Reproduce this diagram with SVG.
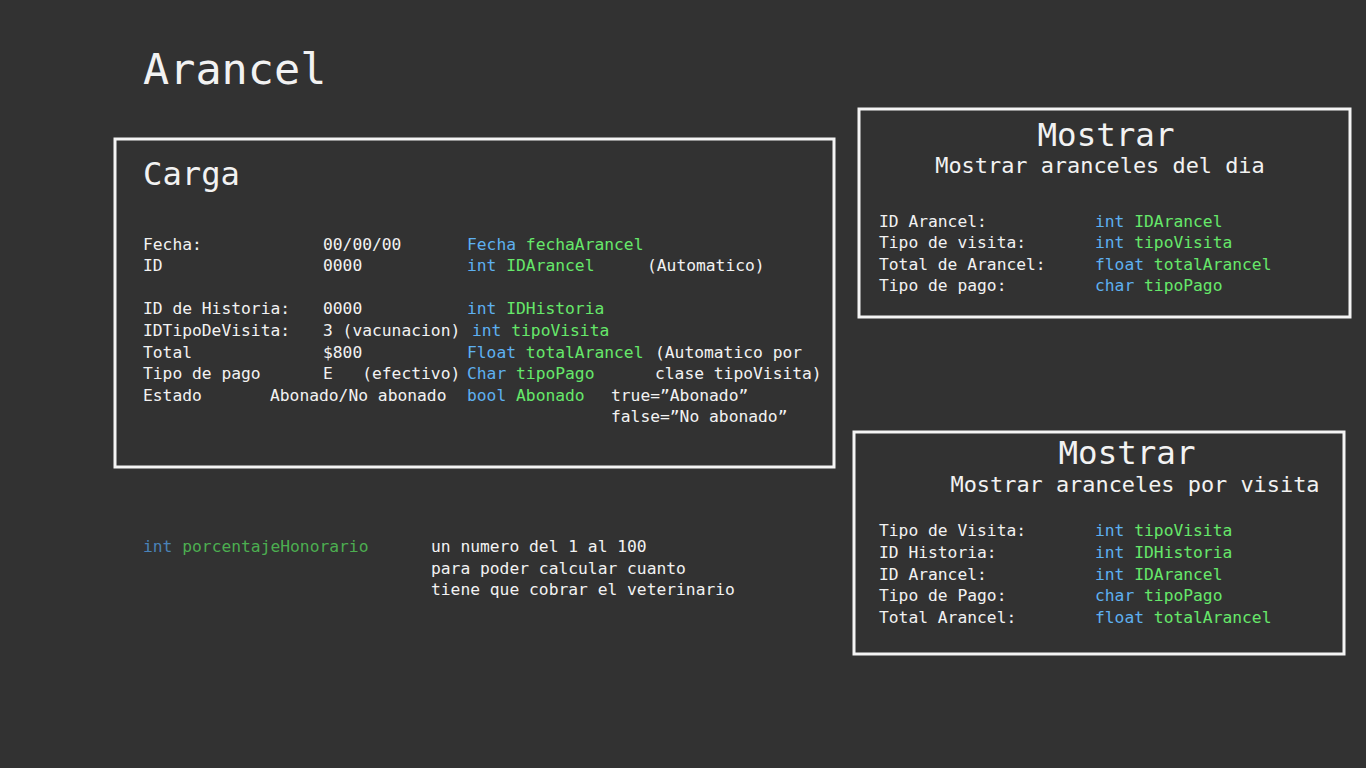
<svg xmlns="http://www.w3.org/2000/svg" width="1366" height="768" viewBox="0 0 1366 768">
<style>
text{font-family:"DejaVu Sans Mono","Liberation Mono",monospace;fill:#f2f2f2;white-space:pre}
.b{font-size:16.3px}
.k{fill:#5eb0f0}
.v{fill:#66e86a}
.k2{fill:#4a82b8}
.v2{fill:#4cae50}
.box{fill:none;stroke:#f4f4f4;stroke-width:3}
</style>
<rect width="1366" height="768" fill="#323232"/>
<text x="143" y="84" font-size="43.5">Arancel</text>

<g id="carga">
<rect class="box" x="115" y="139" width="719" height="328"/>
<text x="143" y="185" font-size="32.2">Carga</text>
<g class="b">
<text class="b" x="143" y="250">Fecha:</text>
<text class="b" x="323" y="250">00/00/00</text>
<text class="b" x="467" y="250"><tspan class="k">Fecha</tspan> <tspan class="v">fechaArancel</tspan></text>

<text class="b" x="143" y="271">ID</text>
<text class="b" x="323" y="271">0000</text>
<text class="b" x="467" y="271"><tspan class="k">int</tspan> <tspan class="v">IDArancel</tspan></text>
<text class="b" x="647" y="271">(Automatico)</text>

<text class="b" x="143" y="314">ID de Historia:</text>
<text class="b" x="323" y="314">0000</text>
<text class="b" x="467" y="314"><tspan class="k">int</tspan> <tspan class="v">IDHistoria</tspan></text>

<text class="b" x="143" y="336">IDTipoDeVisita:</text>
<text class="b" x="323" y="336">3 (vacunacion)</text>
<text class="b" x="472" y="336"><tspan class="k">int</tspan> <tspan class="v">tipoVisita</tspan></text>

<text class="b" x="143" y="358">Total</text>
<text class="b" x="323" y="358">$800</text>
<text class="b" x="467" y="358"><tspan class="k">Float</tspan> <tspan class="v">totalArancel</tspan></text>
<text class="b" x="655" y="358">(Automatico por</text>

<text class="b" x="143" y="379">Tipo de pago</text>
<text class="b" x="323" y="379">E   (efectivo)</text>
<text class="b" x="467" y="379"><tspan class="k">Char</tspan> <tspan class="v">tipoPago</tspan></text>
<text class="b" x="655" y="379">clase tipoVisita)</text>

<text class="b" x="143" y="401">Estado</text>
<text class="b" x="270" y="401">Abonado/No abonado</text>
<text class="b" x="467" y="401"><tspan class="k">bool</tspan> <tspan class="v">Abonado</tspan></text>
<text class="b" x="611" y="401">true=”Abonado”</text>
<text class="b" x="611" y="422">false=”No abonado”</text>
</g>
</g>

<g id="mostrar-dia">
<rect class="box" x="859" y="109" width="491" height="208"/>
<text x="1106" y="146" font-size="32.5" text-anchor="middle">Mostrar</text>
<text x="1100" y="173" font-size="21.9" text-anchor="middle">Mostrar aranceles del dia</text>
<text class="b" x="879" y="227">ID Arancel:</text>
<text class="b" x="1095" y="227"><tspan class="k">int</tspan> <tspan class="v">IDArancel</tspan></text>
<text class="b" x="879" y="248">Tipo de visita:</text>
<text class="b" x="1095" y="248"><tspan class="k">int</tspan> <tspan class="v">tipoVisita</tspan></text>
<text class="b" x="879" y="270">Total de Arancel:</text>
<text class="b" x="1095" y="270"><tspan class="k">float</tspan> <tspan class="v">totalArancel</tspan></text>
<text class="b" x="879" y="291">Tipo de pago:</text>
<text class="b" x="1095" y="291"><tspan class="k">char</tspan> <tspan class="v">tipoPago</tspan></text>
</g>

<g id="mostrar-visita">
<rect class="box" x="854" y="432" width="490" height="222"/>
<text x="1127" y="464" font-size="32.5" text-anchor="middle">Mostrar</text>
<text x="1135" y="492" font-size="21.9" text-anchor="middle">Mostrar aranceles por visita</text>
<text class="b" x="879" y="536">Tipo de Visita:</text>
<text class="b" x="1095" y="536"><tspan class="k">int</tspan> <tspan class="v">tipoVisita</tspan></text>
<text class="b" x="879" y="558">ID Historia:</text>
<text class="b" x="1095" y="558"><tspan class="k">int</tspan> <tspan class="v">IDHistoria</tspan></text>
<text class="b" x="879" y="580">ID Arancel:</text>
<text class="b" x="1095" y="580"><tspan class="k">int</tspan> <tspan class="v">IDArancel</tspan></text>
<text class="b" x="879" y="601">Tipo de Pago:</text>
<text class="b" x="1095" y="601"><tspan class="k">char</tspan> <tspan class="v">tipoPago</tspan></text>
<text class="b" x="879" y="623">Total Arancel:</text>
<text class="b" x="1095" y="623"><tspan class="k">float</tspan> <tspan class="v">totalArancel</tspan></text>
</g>

<g id="honorario">
<text class="b" x="143" y="552"><tspan class="k2">int</tspan> <tspan class="v2">porcentajeHonorario</tspan></text>
<text class="b" x="431" y="552">un numero del 1 al 100</text>
<text class="b" x="431" y="574">para poder calcular cuanto</text>
<text class="b" x="431" y="595">tiene que cobrar el veterinario</text>
</g>
<g id="connectors"></g>
</svg>
